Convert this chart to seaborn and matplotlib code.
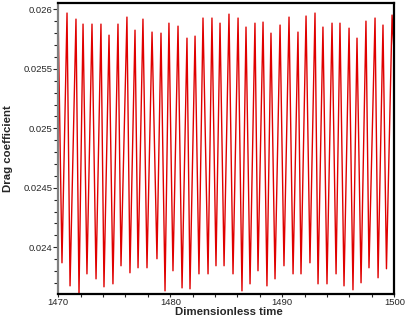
import matplotlib
matplotlib.use("Agg")
import matplotlib.pyplot as plt
from matplotlib.ticker import MultipleLocator, FormatStrFormatter
import seaborn as sns
import pandas as pd

# values (local maxima / minima of the trace)
peak_time = [1470.78, 1471.58, 1472.21, 1473.01, 1473.81, 1474.53, 1475.33, 1476.13,
             1476.85, 1477.56, 1478.37, 1479.17, 1479.88, 1480.69, 1481.49, 1482.21,
             1482.92, 1483.72, 1484.44, 1485.24, 1486.05, 1486.76, 1487.56, 1488.28,
             1488.99, 1489.80, 1490.60, 1491.40, 1492.12, 1492.92, 1493.63, 1494.44,
             1495.15, 1495.96, 1496.67, 1497.47, 1498.28, 1498.99, 1499.80]
peak_cd = [0.025969, 0.025918, 0.025876, 0.025876, 0.025876, 0.025783, 0.025876, 0.025935,
           0.025825, 0.025918, 0.025809, 0.025800, 0.025884, 0.025859, 0.025758, 0.025775,
           0.025927, 0.025927, 0.025884, 0.025960, 0.025927, 0.025851, 0.025884, 0.025893,
           0.025800, 0.025868, 0.025935, 0.025809, 0.025944, 0.025969, 0.025851, 0.025884,
           0.025884, 0.025842, 0.025758, 0.025901, 0.025927, 0.025868, 0.025952]

trough_time = [1470.33, 1471.05, 1471.85, 1472.56, 1473.37, 1474.08, 1474.88, 1475.60,
               1476.40, 1477.12, 1477.92, 1478.81, 1479.53, 1480.24, 1481.05, 1481.76,
               1482.56, 1483.37, 1484.08, 1484.80, 1485.60, 1486.40, 1487.12, 1487.83,
               1488.63, 1489.35, 1490.15, 1490.96, 1491.67, 1492.47, 1493.19, 1493.99,
               1494.80, 1495.51, 1496.31, 1497.03, 1497.74, 1498.55, 1499.30]
trough_cd = [0.023869, 0.023675, 0.023608, 0.023776, 0.023734, 0.023667, 0.023692, 0.023844,
             0.023785, 0.023827, 0.023827, 0.023903, 0.023633, 0.023802, 0.023658, 0.023650,
             0.023776, 0.023776, 0.023844, 0.023844, 0.023776, 0.023633, 0.023692, 0.023802,
             0.023675, 0.023734, 0.023844, 0.023776, 0.023776, 0.023869, 0.023692, 0.023692,
             0.023776, 0.023675, 0.023642, 0.023701, 0.023827, 0.023743, 0.023819]

edge_time = [1470.0, 1500.0]
edge_cd = [0.025842, 0.025600]

df = pd.DataFrame({
    "time": peak_time + trough_time + edge_time,
    "cd": peak_cd + trough_cd + edge_cd,
}).sort_values("time")

sns.set_style("ticks")
plt.rcParams["font.family"] = ["Liberation Sans", "DejaVu Sans"]

fig = plt.figure(figsize=(4.07, 3.17), dpi=100)
ax = fig.add_axes([0.1432, 0.0716, 0.8256, 0.918])

sns.lineplot(data=df, x="time", y="cd", ax=ax, color="#e00000", lw=1.0,
             estimator=None, sort=False)

ax.set_xlim(1470, 1500)
ax.set_ylim(0.023604, 0.026051)

ax.xaxis.set_major_locator(MultipleLocator(10))
ax.xaxis.set_minor_locator(MultipleLocator(2))
ax.yaxis.set_major_locator(MultipleLocator(0.0005))
ax.yaxis.set_minor_locator(MultipleLocator(0.0001))
ax.yaxis.set_major_formatter(FormatStrFormatter("%g"))
ax.xaxis.set_major_formatter(FormatStrFormatter("%g"))

ax.tick_params(axis="x", which="major", length=2.5, width=0.8, pad=0.3,
               labelsize=6.8, direction="out")
ax.tick_params(axis="x", which="minor", length=2.2, width=0.8, direction="out")
ax.tick_params(axis="y", which="major", length=3.8, width=0.8, pad=0.3,
               labelsize=6.8, direction="out")
ax.tick_params(axis="y", which="minor", length=3.0, width=0.8, direction="out")

for side in ["top", "right", "bottom"]:
    ax.spines[side].set_color("black")
    ax.spines[side].set_linewidth(1.6)
ax.spines["left"].set_color("#808080")
ax.spines["left"].set_linewidth(1.6)

ax.set_xlabel("Dimensionless time", fontsize=8.2, fontweight="bold")
ax.set_ylabel("Drag coefficient", fontsize=8.2, fontweight="bold")
ax.xaxis.label.set_va("center")
ax.yaxis.label.set_va("center")
ax.xaxis.set_label_coords(0.508, -0.0605)
ax.yaxis.set_label_coords(-0.15, 0.5)

fig.savefig("out.png", dpi=100)
